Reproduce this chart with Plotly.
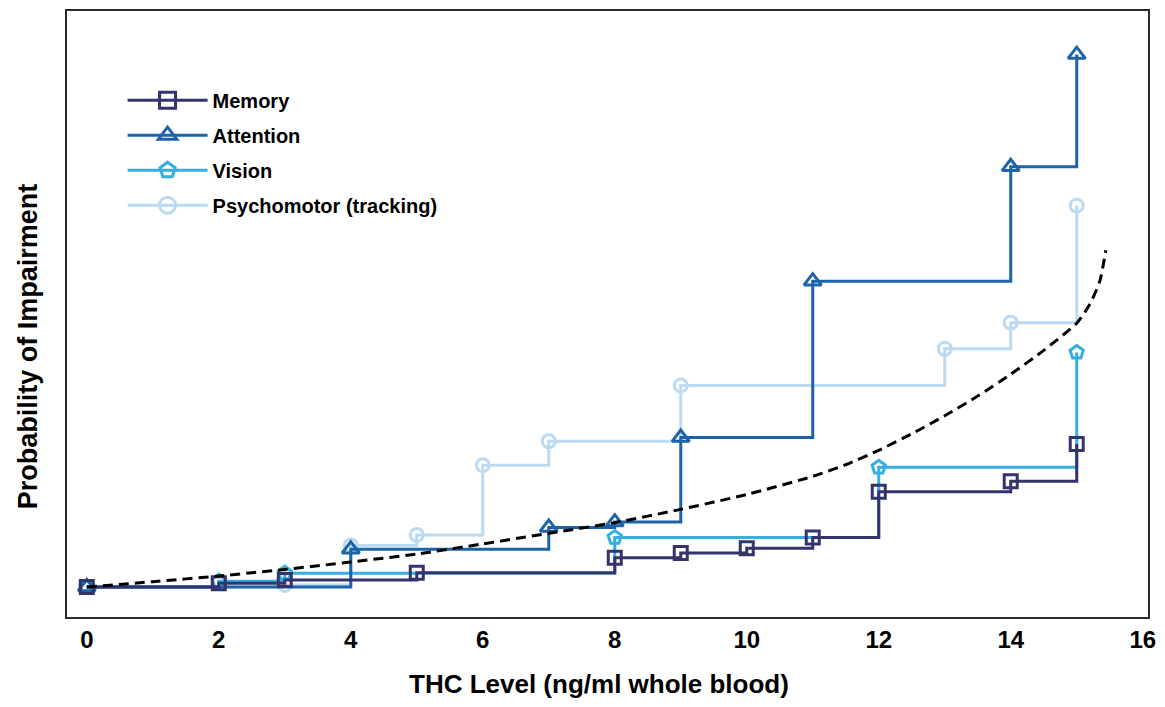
import plotly.graph_objects as go

# ---- data (y in arbitrary probability units) ----
memory_x = [0, 2, 3, 5, 8, 9, 10, 11, 12, 14, 15]
memory_y = [0.0, 0.7, 1.3, 2.7, 5.5, 6.4, 7.3, 9.3, 17.9, 19.9, 26.9]

attention_x = [0, 4, 7, 8, 9, 11, 14, 15]
attention_y = [0.0, 7.1, 11.2, 12.2, 28.1, 57.5, 79.0, 100.1]

vision_x = [0, 2, 3, 8, 12, 15]
vision_y = [0.0, 1.1, 2.6, 9.3, 22.5, 44.1]

psycho_x = [0, 3, 4, 5, 6, 7, 9, 13, 14, 15]
psycho_y = [0.0, 0.4, 7.8, 9.8, 22.9, 27.4, 37.9, 44.8, 49.7, 71.7]

trend_x = [0, 1, 2, 3, 4, 5, 6, 7, 8, 9, 10, 11, 11.5, 12, 12.5, 13, 13.5, 14,
           14.5, 15, 15.2, 15.35, 15.44]
trend_y = [0.0, 1.0, 2.07, 3.3, 4.7, 6.2, 8.1, 10.1, 12.1, 14.6, 17.4, 20.8, 23.0,
           25.7, 28.8, 32.2, 35.9, 40.0, 44.5, 49.6, 53.2, 57.5, 63.3]

x_ticks = [0, 2, 4, 6, 8, 10, 12, 14, 16]

series = [
    ("Memory", memory_x, memory_y, "#34336c", "square-open", 13),
    ("Attention", attention_x, attention_y, "#1d63a9", "triangle-up-open", 15),
    ("Vision", vision_x, vision_y, "#36aee3", "pentagon-open", 14),
    ("Psychomotor (tracking)", psycho_x, psycho_y, "#bcdaf1", "circle-open", 13),
]

FONT = "Liberation Sans, Arial, Helvetica, sans-serif"

fig = go.Figure()

# draw lighter series first so darker ones sit on top (matching reference stacking)
for name, xs, ys, col, sym, sz in reversed(series):
    fig.add_trace(go.Scatter(
        x=xs, y=ys, mode="lines+markers", line=dict(shape="hv", color=col, width=3),
        marker=dict(symbol=sym, size=sz, color=col, line=dict(width=3, color=col)),
        showlegend=False, name=name, hoverinfo="x+y+name"))

fig.add_trace(go.Scatter(
    x=trend_x, y=trend_y, mode="lines",
    line=dict(color="black", width=3, dash="10px,6px", shape="spline", smoothing=0.6),
    showlegend=False, hoverinfo="skip"))

# legend entries
for i, (name, xs, ys, col, sym, sz) in enumerate(series):
    fig.add_trace(go.Scatter(
        x=[None], y=[None], mode="lines+markers", name=name, legendgroup=f"g{i}",
        line=dict(color=col, width=3),
        marker=dict(symbol=sym, size=20, color=col, line=dict(width=3, color=col))))

# page has an 8px body margin: figure is sized/positioned to compensate
fig.update_layout(
    width=1149, height=691,
    margin=dict(l=59, r=9, t=3, b=82, autoexpand=False),
    paper_bgcolor="white", plot_bgcolor="white",
    font=dict(family=FONT, color="black"),
    legend=dict(
        x=0.0514, y=0.885, xanchor="left", yanchor="top",
        itemwidth=80, traceorder="grouped", tracegroupgap=6,
        font=dict(family=FONT, size=20, color="black", weight="bold"),
        bgcolor="rgba(0,0,0,0)", itemsizing="trace"),
    xaxis=dict(
        range=[-0.30, 16.08], tickvals=x_ticks, ticktext=[str(t) for t in x_ticks],
        showgrid=False, zeroline=False, ticks="", showline=True, mirror=True,
        linecolor="#2b2b2b", linewidth=2, automargin=False,
        tickfont=dict(family=FONT, size=24, color="black", weight="bold")),
    yaxis=dict(
        range=[-5.64, 108.3], showticklabels=False, automargin=False,
        showgrid=False, zeroline=False, ticks="", showline=True, mirror=True,
        linecolor="#2b2b2b", linewidth=2),
    annotations=[
        dict(text="THC Level (ng/ml whole blood)", xref="paper", yref="paper",
             x=0.492, y=-0.11, xanchor="center", yanchor="middle", showarrow=False,
             font=dict(family=FONT, size=26, color="black", weight="bold")),
        dict(text="Probability of Impairment", xref="paper", yref="paper",
             x=-0.036, y=0.447, xanchor="center", yanchor="middle", showarrow=False,
             textangle=-90,
             font=dict(family=FONT, size=27, color="black", weight="bold")),
    ],
)

fig.write_html("out.html")
